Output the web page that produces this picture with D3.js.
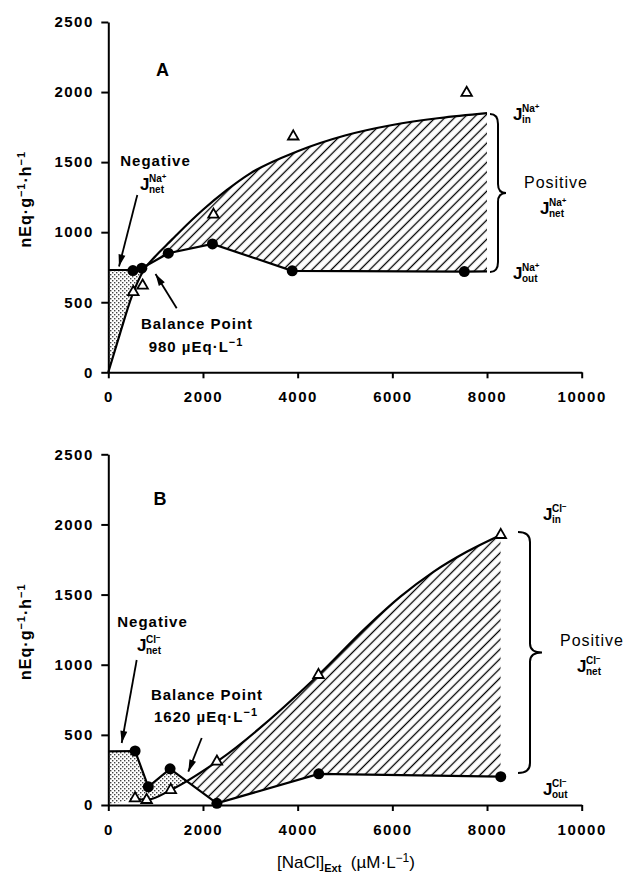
<!DOCTYPE html>
<html><head><meta charset="utf-8">
<script src="https://cdn.jsdelivr.net/npm/d3@7"></script>
<style>
body{margin:0;background:#fff}
svg{display:block}
text{font-family:"Liberation Sans",Arial,Helvetica,sans-serif;fill:#000}
</style>
</head><body><svg id="c" width="625" height="876"></svg>
<script>
// ---------- data ----------
const xTicks = [0, 2000, 4000, 6000, 8000, 10000];
const yTicks = [0, 500, 1000, 1500, 2000, 2500];

// Panel A (Na+)
const naInConc = [528, 725, 2222, 3907, 7570];
const naInFlux = [573, 619, 1125, 1683, 1995];
const naInCurveConc = [0, 250, 500, 750, 1000, 1250, 1500, 2000, 2500, 3000, 4000, 5000, 6000, 7000, 8000];
const naInCurveFlux = [0, 280, 545, 730, 830, 915, 1000, 1160, 1300, 1420, 1578, 1690, 1765, 1815, 1850];
const naOutConc = [519, 708, 1267, 2200, 3885, 7520];
const naOutFlux = [726, 743, 850, 916, 724, 719];
const naOutLineConc = [0, 519, 708, 1267, 2200, 3885, 7520, 8000];
const naOutLineFlux = [730, 730, 743, 850, 916, 724, 719, 720];

// Panel B (Cl-)
const clInConc = [566, 810, 1320, 2294, 4440, 8290];
const clInFlux = [48, 36, 107, 309, 927, 1925];
const clInLineConc = [566, 810, 1320, 2294, 4440, 5461, 6164, 6868, 7572, 8290];
const clInLineFlux = [48, 36, 107, 309, 927, 1270, 1483, 1662, 1805, 1925];
const clOutConc = [566, 845, 1305, 2294, 4445, 8290];
const clOutFlux = [385, 130, 258, 12, 222, 202];
const clOutLineConc = [0, 566, 845, 1305, 2294, 4445, 8290];
const clOutLineFlux = [382, 385, 130, 258, 12, 222, 202];

const zip = (a, b) => a.map((v, i) => [v, b[i]]);

// ---------- drawing ----------
const svg = d3.select('#c');
const defs = svg.append('defs');

const hp = defs.append('pattern').attr('id', 'hatch').attr('patternUnits', 'userSpaceOnUse')
  .attr('width', 6.8).attr('height', 6.8).attr('patternTransform', 'rotate(45)');
hp.append('line').attr('x1', 3.4).attr('y1', -1).attr('x2', 3.4).attr('y2', 8)
  .attr('stroke', '#000').attr('stroke-width', 1.3);

const sp = defs.append('pattern').attr('id', 'stipple').attr('patternUnits', 'userSpaceOnUse')
  .attr('width', 4).attr('height', 4);
sp.append('rect').attr('width', 4).attr('height', 4).attr('fill', '#fff');
sp.append('rect').attr('x', 0).attr('y', 0).attr('width', 1.4).attr('height', 1.4).attr('fill', '#444');
sp.append('rect').attr('x', 2).attr('y', 2).attr('width', 1.4).attr('height', 1.4).attr('fill', '#444');

defs.append('marker').attr('id', 'arr').attr('viewBox', '0 0 12 8').attr('refX', 12).attr('refY', 4)
  .attr('markerUnits', 'userSpaceOnUse').attr('markerWidth', 13).attr('markerHeight', 8).attr('orient', 'auto')
  .append('path').attr('d', 'M0,0.5 L12,4 L0,7.5 Z').attr('fill', '#000');

const x = d3.scaleLinear().domain([0, 10000]).range([108.3, 581.7]);

function brace(x0, y1, y2, w) {
  const m = (y1 + y2) / 2, h = w / 2;
  return `M${x0},${y1} Q${x0 + h},${y1} ${x0 + h},${y1 + 10} L${x0 + h},${m - 9} Q${x0 + h},${m} ${x0 + w},${m}` +
    ` Q${x0 + h},${m} ${x0 + h},${m + 9} L${x0 + h},${y2 - 10} Q${x0 + h},${y2} ${x0},${y2}`;
}

function jLabel(x0, yb, ion, sub) {
  svg.append('text').attr('x', x0).attr('y', yb).attr('font-weight', 'bold').attr('font-size', 17).text('J');
  const s = svg.append('text').attr('x', x0 + 9).attr('y', yb - 8).attr('font-weight', 'bold').attr('font-size', 10);
  s.append('tspan').text(ion);
  s.append('tspan').attr('dy', -3).attr('font-size', 8).text(ion === 'Na' ? '+' : '\u2212');
  svg.append('text').attr('x', x0 + 9).attr('y', yb + 3).attr('font-weight', 'bold').attr('font-size', 10).text(sub);
}

function textAt(tx, ty, str, opts) {
  const t = svg.append('text').attr('x', tx).attr('y', ty).attr('text-anchor', opts.anchor || 'middle')
    .attr('font-size', opts.size || 15).attr('font-weight', opts.weight || 'bold')
    .attr('letter-spacing', opts.ls || 0);
  return t.text(str);
}

function arrow(x1, y1, x2, y2) {
  svg.append('line').attr('x1', x1).attr('y1', y1).attr('x2', x2).attr('y2', y2)
    .attr('stroke', '#000').attr('stroke-width', 1.8).attr('marker-end', 'url(#arr)');
}

function panel(id, y, inLine, inPts, outLine, outPts, inCurve) {
  const yTop = y(2500), yBot = y(0);
  const lineIn = d3.line().x(d => x(d[0])).y(d => y(d[1])).curve(inCurve);
  const lineOut = d3.line().x(d => x(d[0])).y(d => y(d[1]));
  const inPath = lineIn(inLine), outPath = lineOut(outLine);
  const inFirst = inLine[0], inLast = inLine[inLine.length - 1], outLast = outLine[outLine.length - 1];

  defs.append('clipPath').attr('id', 'aboveOut' + id).append('path')
    .attr('d', outPath + `L${x(outLast[0])},${yTop - 5}L${x(0)},${yTop - 5}Z`);
  defs.append('clipPath').attr('id', 'aboveIn' + id).append('path')
    .attr('d', `M${x(0)},${y(0)}` + inPath.replace(/^M/, 'L') + `L${x(inLast[0])},${yTop - 5}L${x(0)},${yTop - 5}Z`);

  svg.append('g').attr('clip-path', `url(#aboveOut${id})`).append('path')
    .attr('d', inPath + `L${x(inLast[0])},${yBot}L${x(inFirst[0])},${yBot}Z`).attr('fill', 'url(#hatch)');
  svg.append('g').attr('clip-path', `url(#aboveIn${id})`).append('path')
    .attr('d', outPath + `L${x(outLast[0])},${yBot}L${x(0)},${yBot}Z`).attr('fill', 'url(#stipple)');

  svg.append('path').attr('d', inPath).attr('fill', 'none').attr('stroke', '#000').attr('stroke-width', 2.2);
  svg.append('path').attr('d', outPath).attr('fill', 'none').attr('stroke', '#000').attr('stroke-width', 2.2);

  // axes
  const ax = svg.append('g').attr('transform', `translate(0,${yBot})`)
    .call(d3.axisBottom(x).tickValues(xTicks).tickFormat(d3.format('d')).tickSize(6).tickSizeOuter(0).tickPadding(13));
  const ay = svg.append('g').attr('transform', `translate(${x(0)},0)`)
    .call(d3.axisLeft(y).tickValues(yTicks).tickFormat(d3.format('d')).tickSize(7).tickSizeOuter(0).tickPadding(7.5));
  [ax, ay].forEach(a => {
    a.select('.domain').attr('stroke', '#000').attr('stroke-width', 2);
    a.selectAll('.tick line').attr('stroke', '#000').attr('stroke-width', 2);
    a.selectAll('.tick text').attr('font-family', '"Liberation Sans",Arial,sans-serif').attr('font-size', 15)
      .attr('font-weight', 'bold').attr('letter-spacing', 1.5).attr('fill', '#000');
  });

  // markers
  svg.append('g').selectAll('circle').data(outPts).join('circle')
    .attr('cx', d => x(d[0])).attr('cy', d => y(d[1])).attr('r', 5.5).attr('fill', '#000');
  const tri = d3.symbol().type(d3.symbolTriangle).size(48);
  svg.append('g').selectAll('path').data(inPts).join('path')
    .attr('d', tri).attr('transform', d => `translate(${x(d[0])},${y(d[1])})`)
    .attr('fill', '#fff').attr('stroke', '#000').attr('stroke-width', 1.8);

  // y title
  const yt = svg.append('text').attr('transform', `translate(31,${(y(0) + y(2500)) / 2 + 2}) rotate(-90)`)
    .attr('text-anchor', 'middle').attr('font-size', 16).attr('font-weight', 'bold').attr('letter-spacing', 1);
  yt.append('tspan').text('nEq\u00B7g');
  yt.append('tspan').attr('dy', -6).attr('font-size', 11).text('\u22121');
  yt.append('tspan').attr('dy', 6).text('\u00B7h');
  yt.append('tspan').attr('dy', -6).attr('font-size', 11).text('\u22121');
}

const yA = d3.scaleLinear().domain([0, 2500]).range([372.3, 22]);
const yB = d3.scaleLinear().domain([0, 2500]).range([805, 454.3]);

panel('A', yA, zip(naInCurveConc, naInCurveFlux), zip(naInConc, naInFlux),
  zip(naOutLineConc, naOutLineFlux), zip(naOutConc, naOutFlux), d3.curveMonotoneX);
panel('B', yB, zip(clInLineConc, clInLineFlux), zip(clInConc, clInFlux),
  zip(clOutLineConc, clOutLineFlux), zip(clOutConc, clOutFlux), d3.curveMonotoneX);

// ---------- annotations panel A ----------
textAt(162.5, 76, 'A', {size: 18});
textAt(155.5, 166, 'Negative', {size: 15, ls: 1});
jLabel(140, 190, 'Na', 'net');
arrow(137.3, 195, 119, 266.5);
textAt(197, 329, 'Balance Point', {size: 15, ls: 1});
const t980 = textAt(196, 352, '980  \u00B5Eq\u00B7L', {size: 15, ls: 1});
t980.append('tspan').attr('dy', -6).attr('font-size', 11).text('\u22121');
arrow(176.7, 308.3, 155.5, 274);
svg.append('path').attr('d', brace(490, 114, 272, 16)).attr('fill', 'none').attr('stroke', '#000').attr('stroke-width', 2);
jLabel(513, 120, 'Na', 'in');
textAt(556, 188, 'Positive', {size: 16, weight: 'normal', ls: 1});
jLabel(540, 214, 'Na', 'net');
jLabel(513, 279, 'Na', 'out');

// ---------- annotations panel B ----------
textAt(160, 505, 'B', {size: 18});
textAt(152.5, 627, 'Negative', {size: 15, ls: 1});
jLabel(137, 651, 'Cl', 'net');
arrow(136.7, 660, 121.7, 743);
textAt(207, 700, 'Balance Point', {size: 15, ls: 1});
const t1620 = textAt(206, 722, '1620  \u00B5Eq\u00B7L', {size: 15, ls: 1});
t1620.append('tspan').attr('dy', -6).attr('font-size', 11).text('\u22121');
arrow(201.7, 738, 188.3, 771.7);
svg.append('path').attr('d', brace(518, 532, 773, 24)).attr('fill', 'none').attr('stroke', '#000').attr('stroke-width', 2);
jLabel(543, 520, 'Cl', 'in');
textAt(592, 646, 'Positive', {size: 16, weight: 'normal', ls: 1});
jLabel(577, 672, 'Cl', 'net');
jLabel(543, 795, 'Cl', 'out');

// ---------- x title ----------
const xt = svg.append('text').attr('x', 346).attr('y', 868).attr('text-anchor', 'middle').attr('font-size', 17);
xt.append('tspan').text('[NaCl]');
xt.append('tspan').attr('dy', 4).attr('font-size', 11).attr('font-weight', 'bold').text('Ext');
xt.append('tspan').attr('dy', -4).text('\u00A0\u00A0(\u00B5M\u00B7L');
xt.append('tspan').attr('dy', -6).attr('font-size', 12).text('\u22121');
xt.append('tspan').attr('dy', 6).text(')');
</script>
</body></html>
